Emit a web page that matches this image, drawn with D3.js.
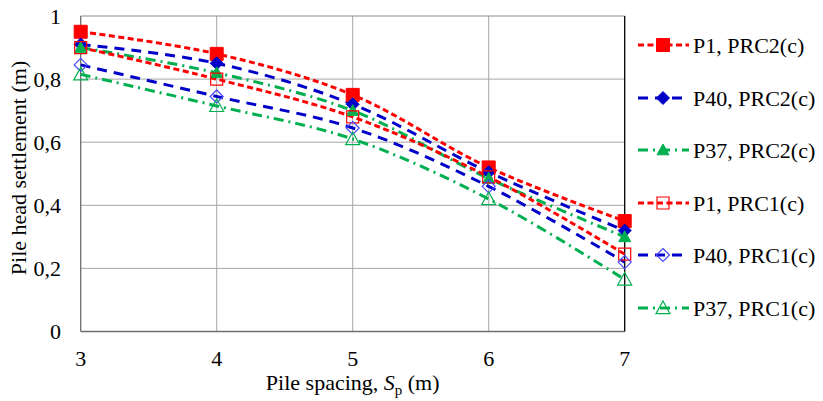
<!DOCTYPE html>
<html><head><meta charset="utf-8">
<script src="https://cdn.jsdelivr.net/npm/d3@7"></script>
<style>body{margin:0;background:#fff}svg{display:block}</style>
</head><body><svg id="c" width="823" height="401"></svg>
<script>
const spacing = [3, 4, 5, 6, 7];
const yTicks = [0, 0.2, 0.4, 0.6, 0.8, 1];
const p1PRC2 = [0.95, 0.88, 0.75, 0.52, 0.35];
const p40PRC2 = [0.91, 0.85, 0.72, 0.505, 0.32];
const p37PRC2 = [0.90, 0.82, 0.70, 0.485, 0.30];
const p1PRC1 = [0.90, 0.80, 0.68, 0.49, 0.245];
const p40PRC1 = [0.845, 0.745, 0.645, 0.46, 0.22];
const p37PRC1 = [0.815, 0.715, 0.61, 0.42, 0.165];
const seriesNames = ["P1, PRC2(c)", "P40, PRC2(c)", "P37, PRC2(c)", "P1, PRC1(c)", "P40, PRC1(c)", "P37, PRC1(c)"];
const FONT = "Liberation Serif, Tinos, Times New Roman, DejaVu Serif, serif";

const sq = r => `M${-r},${-r}H${r}V${r}H${-r}Z`;
const dia = r => `M0,${-r}L${r},0L0,${r}L${-r},0Z`;
const tri = r => `M0,${-r}L${r*1.0},${r*0.8}L${-r*1.0},${r*0.8}Z`;

const series = [
  {name: seriesNames[0], v: p1PRC2, color: "#FF0000", dash: "6,3.5", shape: sq(6.5), filled: true, mcol:"#FF0000"},
  {name: seriesNames[1], v: p40PRC2, color: "#0000C8", dash: "10,7", shape: dia(6.5), filled: true, mcol:"#0000C8"},
  {name: seriesNames[2], v: p37PRC2, color: "#00B050", dash: "10,5,2,5", shape: tri(6), filled: true, mcol:"#00B050"},
  {name: seriesNames[3], v: p1PRC1, color: "#FF0000", dash: "6,3.5", shape: sq(6), filled: false, mcol:"#FF0000"},
  {name: seriesNames[4], v: p40PRC1, color: "#0000C8", dash: "10,7", shape: dia(6.5), filled: false, mcol:"#4848FF"},
  {name: seriesNames[5], v: p37PRC1, color: "#00B050", dash: "10,5,2,5", shape: tri(7), filled: false, mcol:"#00B050"}
];

const svg = d3.select("#c");
const x = d3.scaleLinear().domain([3, 7]).range([80.7, 624.7]);
const y = d3.scaleLinear().domain([0, 1]).range([331.5, 16]);

svg.append("g").selectAll("line").data(yTicks.filter(t => t > 0 && t < 1)).join("line")
  .attr("x1", x(3)).attr("x2", x(7)).attr("y1", d => y(d)).attr("y2", d => y(d))
  .attr("stroke", "#a6a6a6").attr("stroke-width", 1);
svg.append("g").selectAll("line").data(spacing.filter(t => t > 3 && t < 7)).join("line")
  .attr("y1", y(0)).attr("y2", y(1)).attr("x1", d => x(d)).attr("x2", d => x(d))
  .attr("stroke", "#a6a6a6").attr("stroke-width", 1);
svg.append("line").attr("x1", x(3)).attr("x2", x(7)).attr("y1", y(1)).attr("y2", y(1)).attr("stroke", "#8c8c8c");
svg.append("line").attr("x1", x(3)).attr("x2", x(3)).attr("y1", y(0)).attr("y2", y(1)).attr("stroke", "#6e6e6e").attr("stroke-width", 1.3);
svg.append("line").attr("x1", x(3)).attr("x2", x(7)).attr("y1", y(0)).attr("y2", y(0)).attr("stroke", "#6e6e6e").attr("stroke-width", 1.3);
svg.append("line").attr("x1", x(7)).attr("x2", x(7)).attr("y1", y(0)).attr("y2", y(1)).attr("stroke", "#000").attr("stroke-width", 1.3);

const fmt = d => d === 0 ? "0" : d === 1 ? "1" : String(d).replace(".", ",");
svg.append("g").selectAll("text").data(yTicks).join("text")
  .attr("x", 61).attr("y", d => y(d)).attr("dy", "0.35em").attr("text-anchor", "end")
  .attr("font-size", 22).text(fmt);
svg.append("g").selectAll("text").data(spacing).join("text")
  .attr("x", d => x(d)).attr("y", 358).attr("dy", "0.35em").attr("text-anchor", "middle")
  .attr("font-size", 22).text(d => d);

svg.append("text").attr("transform", "translate(18,168) rotate(-90)")
  .attr("text-anchor", "middle").attr("dy", "0.35em").attr("font-size", 22).text("Pile head settlement (m)");
const xt = svg.append("text").attr("x", x(5)).attr("y", 382).attr("dy", "0.35em").attr("text-anchor", "middle").attr("font-size", 22);
xt.append("tspan").text("Pile spacing, ");
xt.append("tspan").attr("font-style", "italic").text("S");
xt.append("tspan").attr("font-size", 15).attr("dy", 5).text("p");
xt.append("tspan").attr("dy", -5).text(" (m)");

const line = d3.line().x((d, i) => x(spacing[i])).y(d => y(d)).curve(d3.curveCatmullRom.alpha(0.5));
series.forEach(s => {
  svg.append("path").attr("d", line(s.v)).attr("fill", "none").attr("stroke", s.color)
    .attr("stroke-width", 3).attr("stroke-dasharray", s.dash);
});
function drawMarker(g, s, cx, cy) {
  g.append("path").attr("d", s.shape)
    .attr("transform", "translate(" + cx + "," + cy + ")")
    .attr("fill", s.filled ? s.mcol : "#fff").attr("fill-opacity", s.filled ? 1 : 0)
    .attr("stroke", s.mcol).attr("stroke-width", s.filled ? 1 : 1.2);
}
series.forEach(s => {
  const g = svg.append("g");
  s.v.forEach((v, i) => drawMarker(g, s, x(spacing[i]), y(v)));
});

const legY = [45, 98, 150, 203, 255, 308];
series.forEach((s, i) => {
  const g = svg.append("g");
  const yy = legY[i];
  g.append("line").attr("x1", 638).attr("x2", 689).attr("y1", yy).attr("y2", yy)
    .attr("stroke", s.color).attr("stroke-width", 3).attr("stroke-dasharray", s.dash);
  drawMarker(g, s, 663, yy);
  g.append("text").attr("x", 693).attr("y", yy).attr("dy", "0.35em").attr("font-size", 22).text(s.name);
});
svg.selectAll("text").style("font-family", FONT, "important");
</script></body></html>
